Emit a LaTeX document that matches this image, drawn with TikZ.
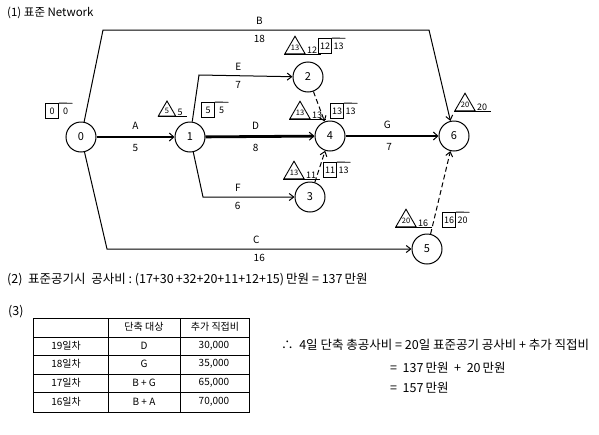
\documentclass[tikz,border=0pt]{standalone}
\usepackage{fontspec}
\newfontfamily\kr{Noto Sans CJK KR}
\usetikzlibrary{positioning, arrows.meta, calc, shapes.geometric}

\tikzset{
  event/.style={circle, draw, line width=1pt, minimum size=30pt, inner sep=0pt, font=\kr\fontsize{11}{12}\selectfont},
  act/.style={line width=1pt, -{Straight Barb[length=4.5pt, width=7pt]}},
  crit/.style={line width=2.8pt, -{Straight Barb[length=4.5pt, width=8pt, line width=1pt]}},
  dummy/.style={act, dash pattern=on 5pt off 3pt},
  lbl/.style={font=\kr\fontsize{10}{11}\selectfont, inner sep=2pt},
  tnum/.style={font=\kr\fontsize{9}{10}\selectfont, inner sep=0.5pt, minimum height=15pt, minimum width=13pt},
  earlybox/.style={tnum, draw, line width=0.9pt},
  latetri/.style={regular polygon, regular polygon sides=3, draw, line width=0.9pt, inner sep=0pt, minimum size=20pt, font=\kr\fontsize{7.5}{8}\selectfont},
  txt/.style={font=\kr\fontsize{12.5}{14}\selectfont, anchor=west, inner sep=0pt},
  cell/.style={font=\kr\fontsize{10}{11}\selectfont, inner sep=0pt}
}

% earliest / latest time marks
\newcommand{\earlypair}[4]{%
  \node[earlybox] (#1f) at (#2) {#3};
  \node[tnum, anchor=west, inner sep=0pt] (#1s) at (#1f.east) {#4};
  \draw[line width=0.9pt] (#1f.north east) -- (#1s.north east);
}
\newcommand{\latepair}[4]{%
  \node[latetri] (#1t) at (#2) {#3};
  \node[tnum, anchor=south west, minimum height=0pt, minimum width=0pt, inner sep=1pt] (#1s) at (#1t.corner 3) {#4};
  \draw[line width=0.9pt] (#1t.corner 2) -- ([xshift=3pt]#1s.south east);
}

\begin{document}
\begin{tikzpicture}[x=1pt, y=-1pt]
    \useasboundingbox (0,0) rectangle (599,434);

    % Title
    \node[txt, font=\kr\fontsize{11.5}{12}\selectfont] (title) at (7,13) {(1) 표준 Network};

    % Events
    \node[event] (n0) at (81,137) {0};
    \node[event] (n1) at (190,137) {1};
    \node[event] (n2) at (308,77) {2};
    \node[event] (n4) at (330,136) {4};
    \node[event] (n3) at (310,197) {3};
    \node[event] (n6) at (454,136) {6};
    \node[event] (n5) at (427,249) {5};

    % Bends
    \coordinate (bA) at (103,30);
    \coordinate (bB) at (429,30);
    \coordinate (cA) at (107,249);
    \coordinate (eA) at (199,75);
    \coordinate (fA) at (203,197);

    % Critical path
    \draw[crit] (n0) -- (n1) node[lbl, midway, above=4pt] {A} node[lbl, midway, below=4pt] {5};
    \draw[crit] (n1) -- (n4) node[lbl, pos=0.46, above=4pt] {D} node[lbl, pos=0.46, below=4pt] {8};
    \draw[crit] (n4) -- (n6) node[lbl, pos=0.45, above=4pt] {G} node[lbl, pos=0.47, below=4pt] {7};

    % Other activities
    \draw[act] (n0) -- (bA) -- (bB) node[lbl, pos=0.48, above=3pt] {B} node[lbl, pos=0.48, below=3pt] {18} -- (n6);
    \draw[act] (n0) -- (cA) -- (n5) node[lbl, pos=0.49, above=3pt] {C} node[lbl, pos=0.5, below=3pt] {16};
    \draw[act] (n1) -- (eA) -- (n2) node[lbl, pos=0.42, above=3pt] {E} node[lbl, pos=0.42, below=3pt] {7};
    \draw[act] (n1) -- (fA) -- (n3) node[lbl, pos=0.38, above=3pt] {F} node[lbl, pos=0.38, below=3pt] {6};

    % Dummies
    \draw[dummy] (n2) -- (n4);
    \draw[dummy] (n3) -- (n4);
    \draw[dummy] (n5) -- (n6);

    % Time marks
    \earlypair{m0}{52,111}{0}{0}
    \latepair{m1}{167,111}{5}{5}
    \earlypair{m1}{208,110}{5}{5}
    \latepair{m2}{295,48}{13}{12}
    \earlypair{m2}{325,46}{12}{13}
    \latepair{m4}{300,113}{13}{13}
    \earlypair{m4}{337,111}{13}{13}
    \latepair{m3}{294,173}{13}{11}
    \earlypair{m3}{330,170}{11}{13}
    \latepair{m5}{406,221}{20}{16}
    \earlypair{m5}{449,220}{16}{20}
    \latepair{m6}{465,105}{20}{20}

    % (2)
    \node[txt] (cost) at (7,280) {(2)\ \ 표준공기시\ \ 공사비 :\ (17+30\,+32+20+11+12+15)\,만원 = 137\,만원};

    % (3)
    \node[txt] (part3) at (8,312) {(3)};

    % Table
    \draw[line width=1pt] (33,318) rectangle (249,412);
    \draw[line width=1pt] (33,337) -- (249,337);
    \draw[line width=1pt] (33,355) -- (249,355);
    \draw[line width=1pt] (33,374) -- (249,374);
    \draw[line width=1pt] (33,392) -- (249,392);
    \draw[line width=1pt] (108,318) -- (108,412);
    \draw[line width=1pt] (180,318) -- (180,412);

    \node[cell] (h2) at (144,327) {단축 대상};
    \node[cell] (h3) at (215,327) {추가 직접비};
    \node[cell] (r1a) at (66,346) {19일차};
    \node[cell] (r1b) at (144,346) {D};
    \node[cell] (r1c) at (214,346) {30,000};
    \node[cell] (r2a) at (66,364) {18일차};
    \node[cell] (r2b) at (144,364) {G};
    \node[cell] (r2c) at (214,364) {35,000};
    \node[cell] (r3a) at (66,383) {17일차};
    \node[cell] (r3b) at (144,383) {B + G};
    \node[cell] (r3c) at (214,383) {65,000};
    \node[cell] (r4a) at (66,402) {16일차};
    \node[cell] (r4b) at (144,402) {B + A};
    \node[cell] (r4c) at (214,402) {70,000};

    % Total cost
    \node[txt] (tot1) at (281,345) {∴\ \ 4일 단축 총공사비 = 20일 표준공기 공사비 + 추가 직접비};
    \node[txt] (tot2) at (390,368) {= \ 137\,만원 \ + \ 20\,만원};
    \node[txt] (tot3) at (390,388) {= \ 157\,만원};
\end{tikzpicture}
\end{document}
